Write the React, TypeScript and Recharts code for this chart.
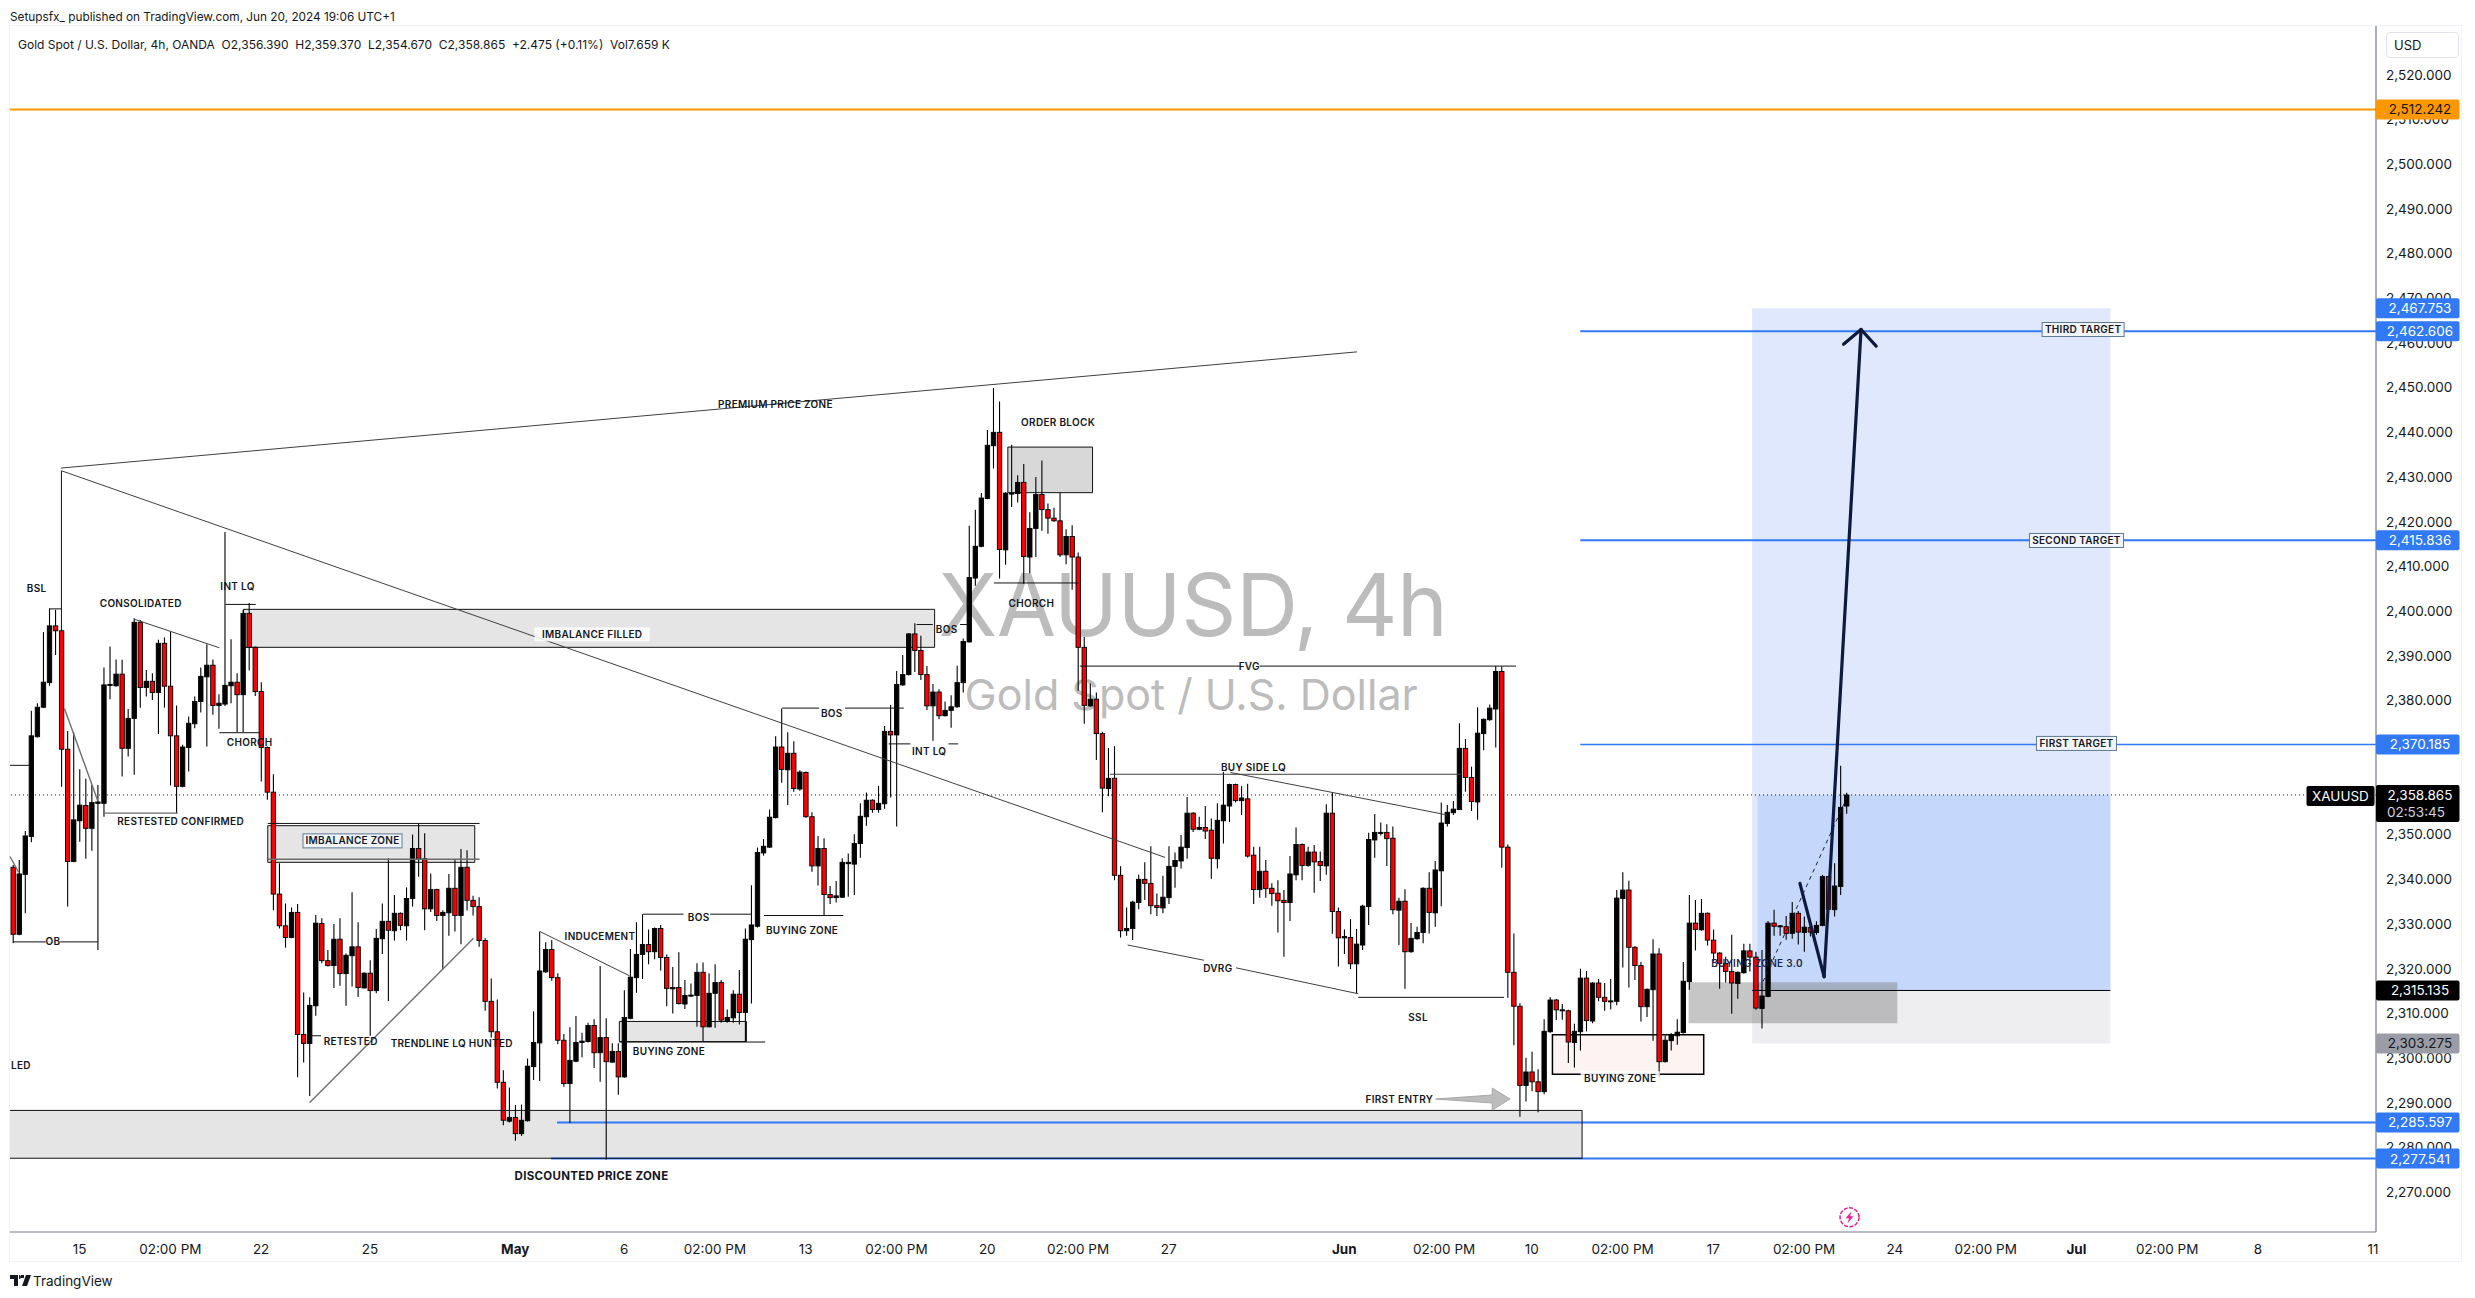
import React from "react";
import {
  ComposedChart,
  Bar,
  XAxis,
  YAxis,
  ReferenceArea,
  ReferenceLine,
  ReferenceDot,
} from "recharts";

type Ohlc = [number, number, number, number];

// 4h candles: [open, high, low, close]
const aprilBars: Ohlc[] = [
  [2342.7,2343.2,2325.7,2327.7],[2327.7,2344.3,2327.5,2341.2],[2341.1,2350.8,2332.4,2349.7],[2349.6,2377.7,2348.3,2372.1],
  [2371.9,2379.4,2371.7,2378.5],[2378.5,2395.3,2378.3,2384.1],[2384,2400.6,2383.3,2396.7],[2396.7,2400.3,2390.2,2395.6],
  [2395.6,2396,2360.7,2369.1],[2369.1,2373.2,2333.9,2344],[2344,2372.9,2343.8,2353.3],[2353.1,2364.6,2348.4,2356.6],
  [2356.5,2362.5,2344.6,2351.4],[2351.4,2361.1,2346.4,2357.2],[2357,2361.1,2324.2,2357.3],[2357,2387.4,2354,2383.5],
  [2383.4,2392.1,2380.3,2383.6],[2383.3,2389.2,2383.1,2385.9],[2385.9,2389.1,2363,2369.3],[2369.3,2378.1,2367.5,2376],
  [2376,2398.4,2363.4,2397.5],[2397.5,2398,2378.4,2382.9],[2382.9,2386.8,2380.9,2384.3],[2384.3,2386.1,2380.1,2381.8],
  [2381.8,2393.6,2372.5,2392.8],[2392.8,2394.1,2378.4,2383.2],[2383.2,2395.4,2361,2372.1],[2372.1,2378.9,2354.8,2360.8],
  [2360.8,2370.1,2360.6,2369.6],[2369.5,2376.4,2364.1,2374.9],[2374.8,2380.9,2373.8,2379.8],[2379.8,2387.4,2377.3,2385.4],
  [2385.3,2392.6,2369.7,2387.9],[2387.9,2389.2,2376.8,2378.9],[2378.9,2381.4,2373.7,2379.4],[2379.2,2417.7,2378.8,2383.4],
  [2383.3,2393.7,2379.4,2384.1],[2384.1,2386.1,2372.9,2381.3],[2381.3,2400.3,2372.9,2399.5],[2399.5,2401.8,2386.7,2391.9],
  [2391.9,2392.1,2381,2382],[2382,2384.1,2361.9,2369.5],[2369.5,2369.7,2357.8,2359.5],[2359.5,2363.5,2333.1,2336.7],
  [2336.7,2343.6,2329,2329.6],[2329.6,2334.6,2324.7,2327],[2327,2333.7,2326.8,2332.6],[2332.6,2334.5,2295.7,2305.3],
  [2305.3,2314.7,2299,2303.3],[2303.3,2313.6,2291.5,2311.8],[2311.7,2332,2309.5,2330.2],
  [2330.1,2331.3,2321.2,2321.8],[2321.8,2324.2,2320.5,2320.7],[2320.7,2330,2315.7,2326.6],[2326.6,2331.3,2316.2,2318.9],
  [2318.9,2323.4,2311.7,2323],[2322.9,2337.1,2316,2324.9],[2324.9,2330.4,2313.7,2315.8],[2315.7,2319.2,2315.6,2319],
  [2319,2321.9,2305,2315.1],[2315.1,2328.9,2314.5,2326.8],[2326.7,2334.6,2323.3,2330.6],[2330.6,2344.7,2312.8,2328.6],
  [2328.5,2336.5,2326.3,2332.4],[2332.4,2332.6,2328.6,2329.7],[2329.6,2338.2,2326.3,2335.7],[2335.7,2350,2333.9,2346.9],
  [2346.9,2352.4,2340.6,2344.6],[2344.6,2350.3,2328.6,2333.4],[2333.4,2341.3,2332.7,2337.7],[2337.7,2337.9,2330.7,2331.9],
  [2331.9,2333.1,2319.9,2332.6],[2332.5,2341.2,2327.4,2338],[2338,2344.3,2328.3,2331.9],[2331.9,2346.8,2325.5,2342.7],
  [2342.7,2346.5,2333,2335.3],[2335.3,2336.3,2331.9,2333.9],[2333.9,2336,2324.9,2326.3],[2326.3,2326.8,2310.6,2312.7],
  [2312.7,2317.8,2304.6,2305.9],[2305.9,2313.1,2293.2,2294.6],[2294.6,2297.3,2285,2286.1],[2285.9,2293.4,2285.6,2286.7],
];

const mayBars: Ohlc[] = [
  [2286.7,2289.5,2281.5,2283.1],[2283.1,2289.6,2282.6,2286.1],[2286,2299.9,2285.8,2298.2],[2298.1,2310.5,2295.1,2303.5],
  [2303.4,2328.3,2294.9,2319.5],[2319.3,2325.9,2319.1,2324.3],[2324.3,2326.4,2317.3,2318],[2318,2319,2303.1,2304],
  [2304,2305.4,2293.6,2294.3],[2294.3,2306.9,2285.5,2299.5],[2299.3,2309.4,2299.1,2303.5],[2303.5,2305.7,2300.2,2303.8],
  [2303.7,2307.9,2303.5,2307.3],[2307.3,2308.7,2297.8,2301.2],[2301.2,2320.6,2294.7,2304.6],[2304.6,2308.9,2277.3,2299.2],
  [2299.1,2303.3,2299,2301.5],[2301.5,2303.3,2291.8,2295.8],[2295.8,2315.2,2295.6,2309.1],[2308.9,2324.4,2308.7,2318.1],
  [2318,2330.4,2314.6,2323.2],[2323.2,2332.2,2317.7,2325.4],[2325.4,2328.8,2321,2323.8],[2323.8,2329.2,2322.1,2329],
  [2329,2329.8,2319.6,2322.5],[2322.5,2323.2,2311.6,2315.6],[2315.5,2320.4,2310,2315.8],[2315.8,2323.7,2312,2312.2],
  [2312.1,2317.5,2311,2314],[2313.9,2316.7,2313.7,2314.1],[2314,2321.2,2307,2319.2],[2319.2,2321.4,2303.7,2307],
  [2307,2319,2306.9,2314.5],[2314.5,2321,2306.8,2316.9],[2316.9,2317.5,2307.9,2308.5],[2308.2,2310.9,2307.9,2309.1],
  [2309,2315.2,2307.9,2314.3],[2314.3,2319.7,2307.5,2310.2],[2310.2,2329,2303.7,2326.6],[2326.5,2338.7,2312.2,2329.8],
  [2329.5,2347.1,2329.2,2346],[2345.9,2349,2345.3,2347.4],[2347.2,2355.6,2347,2353.9],[2353.8,2372,2353.6,2369.6],
  [2369.6,2378.2,2361.6,2364.6],[2364.5,2372.9,2356.6,2368.2],[2368.2,2370.9,2359.6,2360.3],[2360.2,2364.4,2359.8,2364],
  [2363.9,2364.1,2353.8,2354],[2354,2355,2341.7,2343],[2343,2349.7,2338.6,2346.9],[2346.9,2349.2,2332,2336.6],
  [2336.6,2338.5,2334.5,2335.9],[2335.9,2339.6,2334.8,2336.3],[2336,2344.7,2335.8,2343.8],[2343.5,2345.8,2336.1,2343.8],
  [2343.4,2350.1,2336.5,2348],[2348,2357,2344.8,2354.1],[2354,2359.4,2352,2357.7],[2357.7,2357.9,2354.9,2355.6],
  [2355.6,2360.9,2354.9,2357],[2356.9,2374.3,2355.8,2373.1],[2373.1,2379,2358.3,2372.3],[2372.3,2386.6,2351.8,2383.6],
  [2383.5,2390.2,2383.3,2385.8],[2385.8,2395.1,2385.6,2394.9],[2394.9,2397.3,2386.4,2391.2],[2391.2,2394.5,2384.6,2385.8],
  [2385.8,2387.7,2377.9,2378.8],[2378.8,2383.7,2371,2381.9],[2381.9,2382.5,2375.8,2376.6],[2376.6,2379.8,2376.4,2377.8],
  [2377.8,2381.2,2373.9,2378.6],[2378.6,2387.8,2378.4,2384],[2384,2393.9,2381.8,2393.2],[2393.1,2419.1,2393,2407.5],
  [2407.4,2422.7,2405.7,2414.5],[2414.5,2426.4,2414.3,2425.3],[2425.2,2440.5,2425,2437.1],[2437,2449.9,2431.9,2440],
  [2440,2446.9,2407.3,2413.8],[2413.7,2426.6,2410.4,2426.4],[2426.3,2437.2,2423.3,2426.4],[2426.3,2430.4,2424.3,2428.8],
  [2428.8,2432.9,2406.1,2412.2],[2412.1,2422.1,2408.5,2418.5],[2418.5,2430,2412.1,2426.1],[2426.1,2433.7,2418,2422.7],
  [2422.7,2424.1,2417.3,2420.8],[2420.8,2423.1,2420,2420.2],[2420.2,2426.4,2412.1,2412.6],[2412.6,2418.3,2410.5,2416.7],
  [2416.7,2419.2,2404.8,2412.1],[2412.1,2413.1,2382.2,2391.9],[2391.9,2394.2,2374.8,2378.9],[2378.8,2383.8,2378.6,2380.3],
  [2380.3,2381.8,2366.7,2372.6],[2372.6,2373,2355,2360.4],[2360.3,2369.4,2358.6,2362.6],[2362.6,2369.8,2339.8,2340.9],
  [2340.9,2342.9,2327,2328.5],[2328.5,2333.7,2327.4,2329],[2329,2335.2,2326.4,2334.9],[2334.8,2341,2333.3,2340],
  [2340,2343.8,2335.4,2339.1],[2339.1,2347.4,2332.2,2334.1],[2334.1,2336.8,2331.8,2333.7],[2333.6,2340.8,2332.4,2336],
  [2335.9,2347.4,2334.5,2342.9],[2342.9,2346,2338.1,2344.2],[2344.1,2349.9,2342.4,2347.2],[2347.1,2358.4,2344.6,2354.8],
  [2354.8,2355,2350.6,2351.2],[2351.2,2354,2351,2351.6],[2351.6,2356.4,2349,2350.8],[2351,2353.6,2340.1,2344.7],
  [2344.6,2357,2342.4,2353.2],[2353.1,2364,2348,2356.6],[2356.4,2361.4,2352.8,2361.2],[2361.2,2361.4,2357.2,2357.6],
  [2357.6,2360.8,2354.4,2358.2],[2358,2361.4,2344.9,2345.2],[2345.4,2347.3,2334.5,2337.7],[2337.7,2347.3,2335.9,2341.8],
  [2341.8,2344.3,2335.9,2337.9],[2338,2339.1,2334.1,2336.8],[2336.9,2339.8,2328.1,2335.2],[2335.3,2337.6,2322.7,2334.8],
  [2334.8,2345.2,2330.7,2341.2],[2341,2351.6,2339.8,2347.8],[2347.8,2348,2339.8,2343.1],[2343.1,2347.3,2342.8,2346.1],
  [2346.1,2347.7,2337,2343.9],
];

const juneBars: Ohlc[] = [
  [2344,2346.2,2339.6,2343.1],[2343,2356.8,2341,2354.8],[2354.8,2359.5,2327.8,2332.8],[2332.8,2333.7,2320.5,2326.9],
  [2326.9,2328.8,2323.3,2327.2],[2327,2331.1,2319.9,2321.1],[2321.1,2328.9,2314.5,2325.5],[2325.3,2334.3,2324.2,2334],
  [2333.9,2350.4,2329.8,2348.9],[2348.8,2354.6,2344.8,2350.5],[2350.3,2352.7,2349.8,2350.5],[2350.5,2352.3,2343,2349.1],
  [2349.2,2351.8,2332.2,2333.2],[2333.1,2335.9,2325.3,2335.1],[2335.1,2337.8,2315.5,2323.8],[2323.8,2330.2,2323.6,2326.8],
  [2326.7,2329.4,2326.5,2328.1],[2328.1,2338.2,2325.7,2338],[2338,2341.6,2327.9,2332.6],[2332.5,2344.1,2329.4,2342.1],
  [2341.9,2357.2,2334,2352.6],[2352.5,2356.6,2351.8,2355],[2354.9,2357.5,2354.4,2355.7],[2355.6,2374.9,2355.5,2369.3],
  [2369.3,2371.4,2359.6,2362.8],[2362.8,2365.2,2355.3,2357.4],[2357.3,2378.5,2353.3,2372.7],[2372.6,2376,2368.9,2375.8],
  [2375.7,2379.1,2375.5,2378.3],[2378.1,2387.7,2369.5,2386.5],[2386.5,2387.6,2342.6,2347.2],[2347.2,2347.8,2313.5,2319.2],
  [2319.2,2327.9,2302.9,2311.6],[2311.6,2312.3,2286.9,2293.9],[2293.9,2300.1,2290.3,2296.9],[2296.9,2301.4,2292.6,2294.7],
  [2294.7,2297.5,2287.9,2292.5],[2292.5,2308.7,2291.9,2306],[2305.9,2313.7,2305.7,2313],[2313,2313.2,2308.5,2310.8],
  [2310.6,2312.1,2308.6,2310.8],[2310.6,2310.8,2298.9,2303.6],[2303.5,2307.7,2297.9,2306],[2305.9,2320,2301.7,2317.9],
  [2317.9,2319.5,2306,2308.4],[2308.3,2317,2307.8,2316.8],[2316.8,2317.7,2312.7,2313.6],[2313.6,2316.8,2310.6,2312.7],
  [2312.6,2317.7,2310.9,2312.8],[2312.7,2337.6,2311.8,2335.8],[2335.7,2341.6,2320.3,2337.6],[2337.6,2339.7,2315.8,2324.8],
  [2324.8,2325,2317.5,2320.7],[2320.7,2321.5,2308.2,2311.5],[2311.5,2315.6,2309.2,2315.4],[2315.3,2326.6,2303.9,2323.3],
  [2323.3,2324.6,2295.7,2299.2],[2299.2,2305,2299,2304],[2303.9,2305.6,2301.7,2305.1],[2305,2308.7,2303,2305.8],
  [2305.7,2321.5,2305.5,2317.2],[2317.1,2336.5,2315.3,2330.2],[2330.2,2335.4,2324.1,2328.8],[2328.7,2335.6,2328.5,2332.4],
  [2332.4,2332.6,2325.2,2326.4],[2326.4,2328.8,2321.6,2323.5],[2323.5,2323.7,2315.5,2321.2],[2321.2,2322.7,2316.9,2319.4],
  [2319.4,2327.6,2309.9,2316.8],[2316.7,2319.4,2313.3,2319.2],[2319.1,2325.6,2318.9,2324],[2324,2325.6,2319.4,2322.6],
  [2322.6,2323.8,2310.8,2311.2],[2311.1,2324.2,2306.6,2313.9],[2313.8,2330.7,2313.6,2330.2],[2330.2,2333.2,2327.4,2329.5],
  [2329.4,2329.8,2327.4,2329.6],[2329.4,2331.8,2326.5,2327.9],[2327.9,2334.9,2326.7,2332.4],[2332.4,2332.9,2325.4,2328.2],
  [2328.1,2331.7,2323.8,2329.3],[2329.2,2331.1,2327.2,2328.2],[2328.1,2330.6,2327.6,2329.7],[2329.7,2341,2329.5,2340.6],
  [2340.6,2340.8,2332.8,2333.3],[2333.2,2343.6,2331.7,2338.5],[2338.4,2365.4,2336.5,2356.1],[2356.39,2359.37,2354.67,2358.865],
];

const priceTicks = [2270,2280,2290,2300,2310,2320,2330,2340,2350,2360,2370,2380,2390,2400,2410,2420,2430,2440,2450,2460,2470,2480,2490,2500,2510,2520];
const timeTicks = [11,26,41,59,83,101,116,131,146,161,176,191,220,236.5,251,266,281,296,311,326,341,356,371,390];
const timeLabels = ["15","02:00 PM","22","25","May","6","02:00 PM","13","02:00 PM","20","02:00 PM","27","Jun","02:00 PM","10","02:00 PM","17","02:00 PM","24","02:00 PM","Jul","02:00 PM","8","11"];
const boldTimeLabels = ["May","Jun","Jul"];

// drawings, in [bar index, price]
type Seg = [number, number, number, number];
const blackLines: Seg[] = [
  [6,2400.5,8,2400.5],[8,2431.4,8,2395.8],[35.1,2401.5,40.1,2401.5],[34.1,2372.8,40.9,2372.8],
  [-0.5,2365.5,2.9,2365.5],[0,2326,14,2326],[49.4,2305,50.9,2305],[104.1,2332.2,110.8,2332.2],
  [115.2,2332.2,122.1,2332.2],[127.1,2378.3,133.2,2378.3],[137.5,2378.3,147.2,2378.3],
  [144.7,2370.3,148.3,2370.3],[154.6,2370.3,156.2,2370.3],[149.3,2397,152,2397],[156.5,2397,157.8,2397],
  [162.1,2406.3,176.1,2406.3],[176.3,2387.7,202.8,2387.7],[206,2387.7,248.4,2387.7],
  [222.3,2313.6,246.4,2313.6],[100.2,2303.6,124.3,2303.6],[42.1,2352.5,77.1,2352.5],[124.1,2331.9,137.2,2331.9],
  [-0.5,2288.3,259.3,2288.3],[-0.5,2277.6,259.3,2277.6],[259.3,2288.3,259.3,2277.6],
];
const greyLines: Seg[] = [
  [7.9,2432,222.1,2458],[8,2431.4,190.4,2344.9],[20,2398.2,34.1,2391.8],[87.1,2328.3,101.9,2318.4],
  [184.2,2325.3,196.8,2321.9],[202.1,2320.2,222.3,2314.4],[201.2,2363.9,237,2354.4],[181.3,2363.5,239.3,2363.5],
];
const softLines: Seg[] = [
  [8.5,2378.2,14,2357.6],[-0.5,2345.1,0.9,2341.6],[49,2290,76.1,2326.8],[15.1,2354.8,27.2,2354.8],[42.1,2344.5,77.1,2344.5],
];
const navyPath: Seg[] = [
  [295.3,2339.1,299.3,2318.2],[299.3,2318.2,305.4,2463],[302.5,2459.7,305.4,2463],[305.4,2463,307.9,2459.3],
];
const projection: Seg = [289.2,2317.1,303,2358.1];

const plainZones: [number, number, number, number][] = [
  [38.1,152.3,2400.4,2391.9],[42.1,76.3,2352,2343.8],[100.2,121.2,2308.2,2303.7],
];
const discountZone = [-0.5,259.3,2288.3,2277.6];
const orderBlock = [164.4,178.4,2436.7,2426.5];
const pinkZone = [254.4,279.4,2305.2,2296.4];
const greyBox = [276.9,311.4,2317,2307.8];

const positionBars = [287.4,346.6];
const positionCurrentStart = 288.3;
const positionPrices = { target: 2467.753, current: 2358.865, entry: 2315.135, stop: 2303.275 };

const targetLevels: [number, number, number][] = [
  [259,2462.606,2],[259,2415.836,2],[259,2370.185,1.5],[89.9,2285.597,2],[88.9,2277.541,2],
];
const arrowBox = [235.1,247.4,2293.3,2288.4];

type Note = [string, number, number];
const plainNotes: Note[] = [
  ["BSL",3.9,2405],["CONSOLIDATED",21.1,2401.8],["INT LQ",37.1,2405.6],["CHORCH",39.1,2370.7],
  ["RESTESTED CONFIRMED",27.7,2353],["RETESTED",55.8,2303.8],["TRENDLINE LQ HUNTED",72.5,2303.4],["LED",1.3,2298.4],
  ["INDUCEMENT",97,2327.3],["BUYING ZONE",108.4,2301.5],["BUYING ZONE",130.4,2328.6],["INT LQ",151.4,2368.7],
  ["ORDER BLOCK",172.7,2442.3],["CHORCH",168.3,2401.8],["BUY SIDE LQ",205,2365.1],["DVRG",199.1,2320],
  ["SSL",232.2,2309.1],["FIRST ENTRY",229.1,2290.7],["BOS",113.3,2331.5],["BOS",135.3,2377.1],["BOS",154.3,2395.9],["FVG",204.3,2387.7],
  ["PREMIUM PRICE ZONE",126,2446.2],
];
const backedNotes: Note[] = [
  ["OB",6.6,2326.2],["IMBALANCE FILLED",95.7,2394.8],["BUYING ZONE",265.6,2295.5],
];
const boxedNotes: [string, number, number, number][] = [
  ["IMBALANCE ZONE",56.1,2348.6,99],["THIRD TARGET",342.1,2463,82],["SECOND TARGET",341,2415.8,94],["FIRST TARGET",341,2370.4,80],
];

const orangeTag = 2512.242;
const blueTags = [2467.753,2462.606,2415.836,2370.185,2285.597,2277.541];
const blackTag = 2315.135;
const greyTag = 2303.275;
const lastPrice = 2358.865;
const countdown = "02:53:45";

const rows = [...aprilBars, ...mayBars, ...juneBars].map(([open, high, low, close], i) => ({
  i, open, high, low, close, range: [low, high],
}));

const FONT = "Inter, 'Noto Sans', sans-serif";
const BLUE = "#3179f5";
const X_DOMAIN = [-0.5, 390.5];
const Y_DOMAIN = [2261.1, 2530.9];
const AXIS_RIGHT = X_DOMAIN[1];

function Candle(props: any) {
  const { x, y, width, height, payload } = props;
  const h = Math.abs(height);
  const unit = h / (payload.high - payload.low);
  const top = y + (payload.high - Math.max(payload.open, payload.close)) * unit;
  const bottom = y + (payload.high - Math.min(payload.open, payload.close)) * unit;
  const mid = x + width / 2;
  const up = payload.close >= payload.open;
  return (
    <g>
      <line x1={mid} x2={mid} y1={y} y2={y + h} stroke="#000" strokeWidth={1.1} />
      <rect
        x={x}
        y={top}
        width={width}
        height={Math.max(bottom - top, 1)}
        fill={up ? "#000" : "#fa0000"}
        stroke="#000"
        strokeWidth={0.9}
      />
    </g>
  );
}

function fmt(v: number) {
  return v.toLocaleString("en-US", { minimumFractionDigits: 3, maximumFractionDigits: 3 });
}

function TimeTick(props: any) {
  const { x, y, payload } = props;
  const label = timeLabels[timeTicks.indexOf(payload.value)];
  return (
    <text
      x={x}
      y={y + 14}
      textAnchor="middle"
      fontFamily={FONT}
      fontSize={13.5}
      fontWeight={boldTimeLabels.includes(label) ? 700 : 400}
      fill="#131722"
    >
      {label}
    </text>
  );
}

function PriceTag({ cx, cy, bg, color, value, sub }: any) {
  const h = sub ? 37 : 20;
  return (
    <g>
      <rect x={cx} y={cy - 10} width={83.5} height={h} rx={2} fill={bg} />
      <text x={cx + 44} y={cy + 5} textAnchor="middle" fontFamily={FONT} fontSize={13.5} fill={color}>
        {value}
      </text>
      {sub && (
        <text x={cx + 40} y={cy + 22} textAnchor="middle" fontFamily={FONT} fontSize={13.5} fill="#d1d4dc">
          {sub}
        </text>
      )}
    </g>
  );
}

function NoteText({ cx, cy, text, backed, boxW, size = 10, weight = 600, color = "#131722" }: any) {
  const w = text.length * size * 0.72;
  return (
    <g>
      {backed && <rect x={cx - w / 2} y={cy - 7} width={w} height={14} fill="#fff" fillOpacity={0.85} />}
      {boxW && (
        <rect x={cx - boxW / 2} y={cy - 7} width={boxW} height={14} fill="#f1f4fb" stroke="#5f7a96" strokeWidth={1} />
      )}
      <text
        x={cx}
        y={cy + size * 0.36}
        textAnchor="middle"
        fontFamily={FONT}
        fontSize={size}
        fontWeight={weight}
        letterSpacing={0.3}
        fill={color}
      >
        {text}
      </text>
    </g>
  );
}

function ArrowShape({ x, y, width, height }: any) {
  const midY = y + height / 2;
  const neck = x + width * 0.76;
  return (
    <polygon
      points={`${x},${midY} ${neck},${midY - 4} ${neck},${y} ${x + width},${midY} ${neck},${y + height} ${neck},${midY + 4}`}
      fill="#bcbcbc"
      stroke="#a8a8a8"
    />
  );
}

function Bolt({ cx, cy }: any) {
  return (
    <g>
      <circle cx={cx} cy={cy} r={9.5} fill="#fff" stroke="#e0218a" strokeWidth={1.5} strokeDasharray="4 1.5" />
      <path
        d={`M${cx + 2} ${cy - 6} L${cx - 4} ${cy + 1} L${cx - 0.5} ${cy + 1} L${cx - 2} ${cy + 6} L${cx + 4} ${cy - 1} L${cx + 0.5} ${cy - 1} Z`}
        fill="#e0218a"
      />
    </g>
  );
}

function segLine(s: Seg, key: string, stroke: string, width: number, extra: any = {}) {
  return (
    <ReferenceLine
      key={key}
      segment={[{ x: s[0], y: s[1] }, { x: s[2], y: s[3] }]}
      stroke={stroke}
      strokeWidth={width}
      ifOverflow="visible"
      {...extra}
    />
  );
}

function zone(z: number[], key: string, fill: string, stroke: string, extra: any = {}) {
  return (
    <ReferenceArea
      key={key}
      x1={z[0]}
      x2={z[1]}
      y1={z[2]}
      y2={z[3]}
      fill={fill}
      fillOpacity={1}
      stroke={stroke}
      strokeWidth={1}
      ifOverflow="visible"
      zIndex={60}
      {...extra}
    />
  );
}

export default function App() {
  return (
    <div style={{ position: "absolute", left: 0, top: 0, width: 2475, height: 1298, background: "#fff", fontFamily: FONT, color: "#131722" }}>
      <div style={{ position: "absolute", left: 10, top: 10, fontSize: 11.8, whiteSpace: "nowrap" }}>
        Setupsfx_ published on TradingView.com, Jun 20, 2024 19:06 UTC+1
      </div>
      <div style={{ position: "absolute", left: 9, top: 25, width: 2451, height: 1235, border: "1.5px solid #f0f3fa" }} />
      <ComposedChart
        width={2461}
        height={1262}
        data={rows}
        margin={{ top: 26, left: 10, right: 0, bottom: 0 }}
        style={{ position: "absolute", left: 0, top: 0 }}
      >
        <XAxis
          dataKey="i"
          type="number"
          scale="linear"
          domain={X_DOMAIN}
          allowDataOverflow
          ticks={timeTicks}
          interval={0}
          height={30}
          tick={<TimeTick />}
          tickLine={false}
          axisLine={{ stroke: "#787b86", strokeWidth: 1.2 }}
        />
        <YAxis
          orientation="right"
          type="number"
          domain={Y_DOMAIN}
          allowDataOverflow
          ticks={priceTicks}
          interval={0}
          width={85}
          tickFormatter={fmt}
          tick={{ fontFamily: FONT, fontSize: 13.5, fill: "#131722" }}
          tickLine={false}
          tickMargin={4}
          axisLine={{ stroke: "#787b86", strokeWidth: 1.2 }}
        />

        <ReferenceDot
          x={195}
          y={2401.4}
          r={0}
          ifOverflow="visible"
          zIndex={10}
          shape={(p: any) => (
            <text x={p.cx} y={p.cy + 31} textAnchor="middle" fontFamily={FONT} fontSize={86} letterSpacing={-0.4} fill="#bcbcbc">
              XAUUSD, 4h
            </text>
          )}
        />
        <ReferenceDot
          x={194.7}
          y={2381.5}
          r={0}
          ifOverflow="visible"
          zIndex={10}
          shape={(p: any) => (
            <text x={p.cx} y={p.cy + 16} textAnchor="middle" fontFamily={FONT} fontSize={43} fill="#bcbcbc">
              Gold Spot / U.S. Dollar
            </text>
          )}
        />

        {plainZones.map((z, i) => zone(z, `z${i}`, "#e5e5e5", "#111"))}
        {zone(discountZone, "disc", "#e5e5e5", "none")}
        {zone(orderBlock, "ob", "#d8d8d8", "#111")}
        {zone(pinkZone, "pink", "#fdf3f3", "#000", { strokeWidth: 1.5 })}
        {zone([positionBars[0], positionBars[1], positionPrices.target, positionPrices.entry], "pos-t", "#dfe8fd", "none")}
        {zone([positionBars[0], positionBars[1], positionPrices.entry, positionPrices.stop], "pos-s", "#eeeef1", "none")}
        {zone([positionCurrentStart, positionBars[1], positionPrices.current, positionPrices.entry], "pos-c", "#c6d7fc", "none")}
        {zone(greyBox, "grey", "#787878", "none", { fillOpacity: 0.42, zIndex: 62 })}

        {targetLevels.map(([x, y, w], i) =>
          segLine([x, y, AXIS_RIGHT, y], `t${i}`, BLUE, w, { zIndex: 70 })
        )}
        <ReferenceLine y={orangeTag} stroke="#ff9800" strokeWidth={2} zIndex={70} />
        <ReferenceLine y={lastPrice} stroke="#131722" strokeWidth={1} strokeDasharray="1 3" zIndex={70} />

        <Bar
          dataKey="range"
          barSize={4.4}
          shape={<Candle />}
          isAnimationActive={false}
          zIndex={300}
        />

        {segLine([positionBars[0], positionPrices.entry, positionBars[1], positionPrices.entry], "entry", "#000", 1, { zIndex: 400 })}
        {blackLines.map((s, i) => segLine(s, `b${i}`, "#111", 1, { zIndex: 400 }))}
        {greyLines.map((s, i) => segLine(s, `g${i}`, "#3f3f3f", 1, { zIndex: 400 }))}
        {softLines.map((s, i) => segLine(s, `s${i}`, "#6e6e6e", 1.4, { zIndex: 400 }))}
        {segLine(projection, "proj", "#1a2238", 1, { strokeDasharray: "4 4", zIndex: 410 })}
        {navyPath.map((s, i) => segLine(s, `n${i}`, "#0d1a3d", 3.2, { strokeLinecap: "round", zIndex: 420 }))}

        <ReferenceArea
          x1={arrowBox[0]}
          x2={arrowBox[1]}
          y1={arrowBox[2]}
          y2={arrowBox[3]}
          ifOverflow="visible"
          zIndex={430}
          shape={<ArrowShape />}
        />

        {plainNotes.map(([text, x, y], i) => (
          <ReferenceDot
            key={`pn${i}`}
            x={x}
            y={y}
            r={0}
            ifOverflow="visible"
            zIndex={900}
            shape={(p: any) => <NoteText cx={p.cx} cy={p.cy} text={text} />}
          />
        ))}
        {backedNotes.map(([text, x, y], i) => (
          <ReferenceDot
            key={`bn${i}`}
            x={x}
            y={y}
            r={0}
            ifOverflow="visible"
            zIndex={900}
            shape={(p: any) => <NoteText cx={p.cx} cy={p.cy} text={text} backed />}
          />
        ))}
        {boxedNotes.map(([text, x, y, w], i) => (
          <ReferenceDot
            key={`xn${i}`}
            x={x}
            y={y}
            r={0}
            ifOverflow="visible"
            zIndex={900}
            shape={(p: any) => <NoteText cx={p.cx} cy={p.cy} text={text} boxW={w} />}
          />
        ))}
        <ReferenceDot
          x={288.2}
          y={2321.2}
          r={0}
          ifOverflow="visible"
          zIndex={900}
          shape={(p: any) => <NoteText cx={p.cx} cy={p.cy} text="BUYING ZONE 3.0" color="#1b2748" />}
        />
        <ReferenceDot
          x={95.6}
          y={2273.6}
          r={0}
          ifOverflow="visible"
          zIndex={900}
          shape={(p: any) => <NoteText cx={p.cx} cy={p.cy} text="DISCOUNTED PRICE ZONE" size={11.5} weight={700} />}
        />
        <ReferenceDot x={303.5} y={2264.4} r={0} ifOverflow="visible" zIndex={900} shape={<Bolt />} />
      </ComposedChart>

      {/* price tags live in a second chart on top, the axis labels would paint over them otherwise */}
      <ComposedChart
        width={2461}
        height={1262}
        data={rows}
        margin={{ top: 26, left: 10, right: 85, bottom: 30 }}
        style={{ position: "absolute", left: 0, top: 0 }}
      >
        <XAxis dataKey="i" type="number" scale="linear" domain={X_DOMAIN} allowDataOverflow hide />
        <YAxis type="number" domain={Y_DOMAIN} allowDataOverflow hide />
        <ReferenceDot
          x={AXIS_RIGHT}
          y={orangeTag}
          r={0}
          ifOverflow="visible"
          shape={(p: any) => <PriceTag cx={p.cx} cy={p.cy} bg="#ff9800" color="#131722" value={fmt(orangeTag)} />}
        />
        {blueTags.map((v) => (
          <ReferenceDot
            key={v}
            x={AXIS_RIGHT}
            y={v}
            r={0}
            ifOverflow="visible"
            shape={(p: any) => <PriceTag cx={p.cx} cy={p.cy} bg={BLUE} color="#fff" value={fmt(v)} />}
          />
        ))}
        <ReferenceDot
          x={AXIS_RIGHT}
          y={blackTag}
          r={0}
          ifOverflow="visible"
          shape={(p: any) => <PriceTag cx={p.cx} cy={p.cy} bg="#000" color="#fff" value={fmt(blackTag)} />}
        />
        <ReferenceDot
          x={AXIS_RIGHT}
          y={greyTag}
          r={0}
          ifOverflow="visible"
          shape={(p: any) => <PriceTag cx={p.cx} cy={p.cy} bg="#9a9da6" color="#131722" value={fmt(greyTag)} />}
        />
        <ReferenceDot
          x={AXIS_RIGHT}
          y={lastPrice}
          r={0}
          ifOverflow="visible"
          shape={(p: any) => (
            <g>
              <rect x={p.cx - 69.5} y={p.cy - 9} width={68} height={20} rx={2} fill="#000" />
              <text x={p.cx - 35.5} y={p.cy + 6} textAnchor="middle" fontFamily={FONT} fontSize={13.5} fill="#fff">
                XAUUSD
              </text>
              <PriceTag cx={p.cx} cy={p.cy} bg="#000" color="#fff" value={fmt(lastPrice)} sub={countdown} />
            </g>
          )}
        />
      </ComposedChart>

      <div style={{ position: "absolute", left: 18, top: 37, fontSize: 12, whiteSpace: "pre" }}>
        {"Gold Spot / U.S. Dollar, 4h, OANDA  O2,356.390  H2,359.370  L2,354.670  C2,358.865  +2.475 (+0.11%)  Vol7.659 K"}
      </div>
      <div
        style={{
          position: "absolute",
          left: 2386,
          top: 32,
          width: 71,
          height: 24,
          border: "1px solid #e0e3eb",
          borderRadius: 4,
          fontSize: 13,
          lineHeight: "24px",
          textIndent: 7,
        }}
      >
        USD
      </div>
      <svg width={22} height={14} style={{ position: "absolute", left: 10, top: 1274 }}>
        <path d="M0 1H8V12H4V5H0Z M9 1A2 2 0 1 1 9 5Z" fill="#131722" />
        <path d="M12 12L16 1H21L17 12Z M11 1H14V4H11Z" fill="#131722" />
      </svg>
      <div style={{ position: "absolute", left: 33, top: 1273, fontSize: 13.5 }}>TradingView</div>
    </div>
  );
}
